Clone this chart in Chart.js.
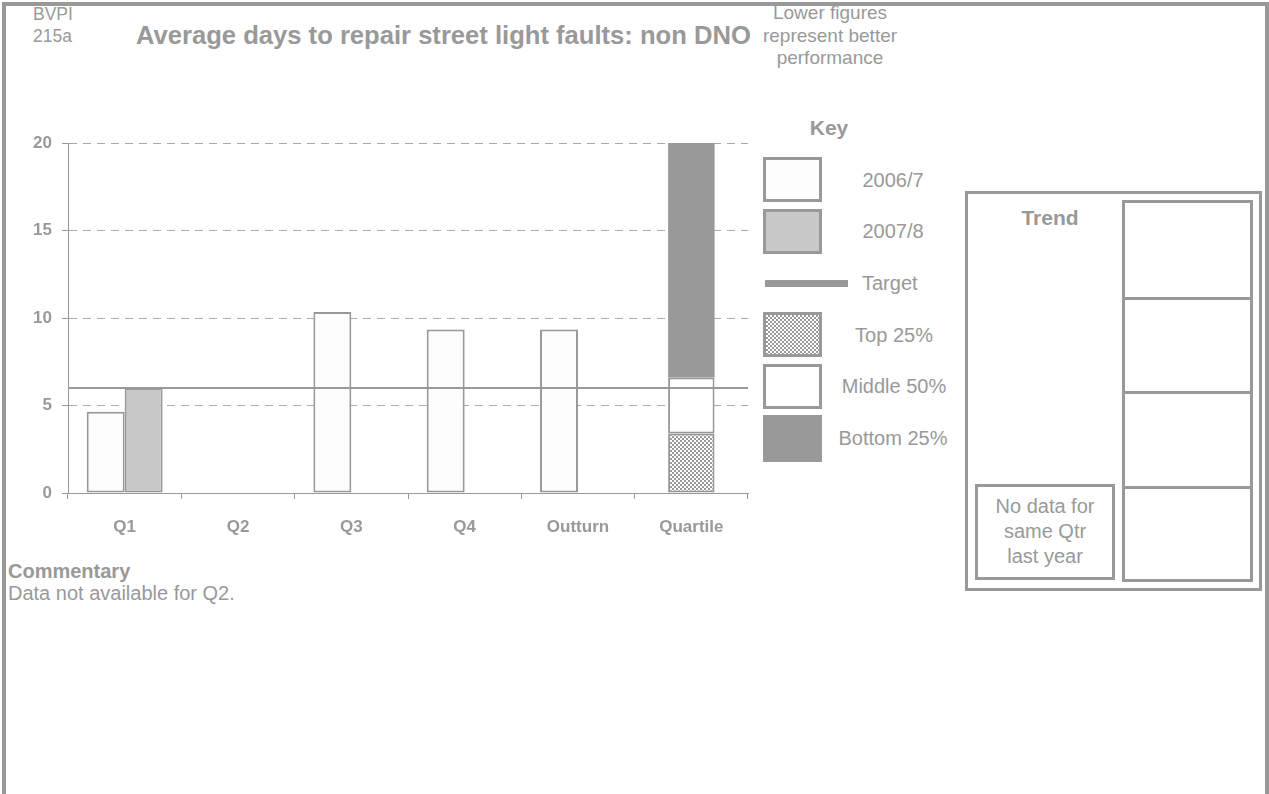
<!DOCTYPE html>
<html>
<head>
<meta charset="utf-8">
<script src="https://cdn.jsdelivr.net/npm/chart.js@4"></script>
<style>
  body { margin: 0; background: #fff; font-family: "Liberation Sans", Arial, sans-serif; color: #999; }
  .abs { position: absolute; white-space: nowrap; }
  .frame { position: absolute; left: 2px; top: 2px; width: 1267px; height: 900px; border: 4px solid #999; box-sizing: border-box; }
  .c { text-align: center; width: 240px; }
  .box { position: absolute; box-sizing: border-box; border: 3px solid #999; }
  #chartWrap { position: absolute; left: 0; top: 120px; width: 760px; height: 420px; }
</style>
</head>
<body>
<div class="frame"></div>

<div class="abs" style="left:33px; top:3px; font-size:17.5px; line-height:22px;">BVPI</div>
<div class="abs" style="left:33px; top:25px; font-size:17.5px; line-height:22px;">215a</div>
<div class="abs" style="left:136px; top:20px; font-size:25.6px; line-height:30px; font-weight:bold;">Average days to repair street light faults: non DNO</div>
<div class="abs c" style="left:710px; top:2px; font-size:19px; line-height:22.5px;">Lower figures<br>represent better<br>performance</div>

<div class="abs c" style="left:709px; top:115px; font-size:21px; line-height:26px; font-weight:bold;">Key</div>
<div class="box" style="left:763px; top:157px; width:59px; height:45px; background:#fdfdfd;"></div>
<div class="abs c" style="left:773px; top:168px; font-size:20px; line-height:24px;">2006/7</div>
<div class="box" style="left:763px; top:209px; width:59px; height:45px; background:#c8c8c8;"></div>
<div class="abs c" style="left:773px; top:219px; font-size:20px; line-height:24px;">2007/8</div>
<div class="abs" style="left:765px; top:280px; width:83px; height:7px; background:#999;"></div>
<div class="abs" style="left:862px; top:271px; font-size:20px; line-height:24px;">Target</div>
<div class="box" style="left:763px; top:312px; width:59px; height:45px; background:repeating-conic-gradient(#999 0 25%, #fff 0 50%) 0 0/4px 4px;"></div>
<div class="abs c" style="left:774px; top:323px; font-size:20px; line-height:24px;">Top 25%</div>
<div class="box" style="left:763px; top:364px; width:59px; height:45px; background:#fff;"></div>
<div class="abs c" style="left:774px; top:374px; font-size:20px; line-height:24px;">Middle 50%</div>
<div class="abs" style="left:763px; top:415px; width:59px; height:47px; background:#999;"></div>
<div class="abs c" style="left:773px; top:426px; font-size:20px; line-height:24px;">Bottom 25%</div>

<div class="box" style="left:965px; top:191px; width:297px; height:400px;"></div>
<div class="abs c" style="left:930px; top:205px; font-size:21px; line-height:26px; font-weight:bold;">Trend</div>
<div class="box" style="left:1122px; top:200px; width:131px; height:100px;"></div>
<div class="box" style="left:1122px; top:297px; width:131px; height:97px;"></div>
<div class="box" style="left:1122px; top:391px; width:131px; height:98px;"></div>
<div class="box" style="left:1122px; top:486px; width:131px; height:96px;"></div>
<div class="box" style="left:975px; top:484px; width:140px; height:96px;"></div>
<div class="abs c" style="left:925px; top:494px; font-size:20px; line-height:25px;">No data for<br>same Qtr<br>last year</div>

<div class="abs" style="left:8px; top:559px; font-size:20px; line-height:24px; font-weight:bold;">Commentary</div>
<div class="abs" style="left:8px; top:581px; font-size:20px; line-height:24px;">Data not available for Q2.</div>

<div id="chartWrap"><canvas id="piChart"></canvas></div>

<script>
// categories and values
const categories = ['Q1', 'Q2', 'Q3', 'Q4', 'Outturn', 'Quartile'];
const values0607 = [4.65, null, 10.35, 9.35, 9.35, null];
const values0708 = [6.0, null, null, null, null, null];
const quartileBounds = [0, 3.4, 6.6, 20]; // top 25% / middle 50% / bottom 25%
const targetValue = 6;
const yTicks = [0, 5, 10, 15, 20];

const grey = '#999';

// checker pattern for the top quartile
function makeChecker() {
    const c = document.createElement('canvas');
    c.width = 4; c.height = 4;
    const g = c.getContext('2d');
    g.fillStyle = '#fff'; g.fillRect(0, 0, 4, 4);
    g.fillStyle = grey; g.fillRect(0, 0, 2, 2); g.fillRect(2, 2, 2, 2);
    return g.createPattern(c, 'repeat');
}

// floating bar only in the last (Quartile) slot
function quartileSlot(lo, hi) {
    return categories.map((c, i) => i === categories.length - 1 ? [lo, hi] : null);
}

// target runs across the whole plot area, placed with the y scale
const targetLine = {
    id: 'targetLine',
    afterDatasetsDraw(chart) {
        const { ctx, chartArea, scales } = chart;
        const py = scales.y.getPixelForValue(targetValue);
        ctx.save();
        ctx.strokeStyle = grey;
        ctx.lineWidth = 2;
        ctx.beginPath();
        ctx.moveTo(chartArea.left, py);
        ctx.lineTo(chartArea.right, py);
        ctx.stroke();
        ctx.restore();
    }
};

const qStyle = { grouped: false, categoryPercentage: 0.41, barPercentage: 1, borderColor: grey, borderWidth: 2, borderSkipped: false };
const tickFont = { family: 'Liberation Sans', size: 17, weight: 'bold' };

const ctx = document.getElementById('piChart').getContext('2d');
new Chart(ctx, {
    type: 'bar',
    data: {
        labels: categories,
        datasets: [
            {
                label: '2006/7',
                data: values0607,
                backgroundColor: '#fdfdfd',
                borderColor: grey,
                borderWidth: 2,
                borderSkipped: false,
                categoryPercentage: 0.67,
                barPercentage: 1
            },
            {
                label: '2007/8',
                data: values0708,
                backgroundColor: '#c8c8c8',
                borderColor: grey,
                borderWidth: 2,
                borderSkipped: false,
                categoryPercentage: 0.67,
                barPercentage: 1
            },
            Object.assign({ label: 'Top 25%', data: quartileSlot(quartileBounds[0], quartileBounds[1]), backgroundColor: makeChecker() }, qStyle),
            Object.assign({ label: 'Middle 50%', data: quartileSlot(quartileBounds[1], quartileBounds[2]), backgroundColor: '#fff' }, qStyle),
            Object.assign({ label: 'Bottom 25%', data: quartileSlot(quartileBounds[2], quartileBounds[3]), backgroundColor: grey }, qStyle, { borderWidth: 0 })
        ]
    },
    options: {
        responsive: true,
        maintainAspectRatio: false,
        animation: false,
        layout: { padding: { top: 23, right: 12, left: 0, bottom: 0 } },
        scales: {
            x: {
                offset: true,
                grid: { offset: true, drawOnChartArea: false, drawTicks: true, tickLength: 6, color: grey },
                border: { display: true, color: grey, width: 1 },
                ticks: { color: grey, font: tickFont, padding: 18 },
                afterFit: (s) => { s.height = 47; }
            },
            y: {
                min: yTicks[0],
                max: yTicks[yTicks.length - 1],
                afterBuildTicks: (s) => { s.ticks = yTicks.map(v => ({ value: v })); },
                grid: { color: '#aaa', tickLength: 6, tickColor: grey, tickBorderDash: [] },
                border: { display: true, color: grey, width: 1, dash: [8, 6] },
                ticks: { color: grey, font: tickFont, padding: 10 },
                afterFit: (s) => { s.width = 68; }
            }
        },
        plugins: {
            legend: { display: false },
            title: { display: false },
            tooltip: { enabled: false }
        }
    },
    plugins: [targetLine]
});
</script>
</body>
</html>
